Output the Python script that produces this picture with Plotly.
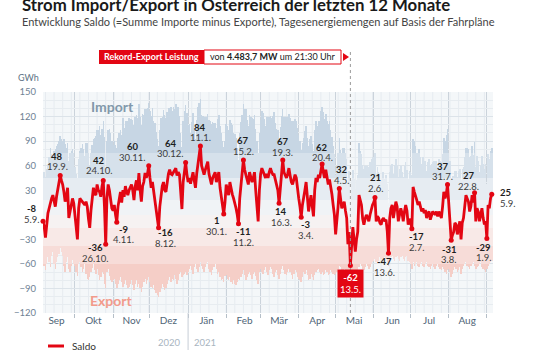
import plotly.graph_objects as go
import pandas as pd

# ---------------- data (GWh per day) ----------------
start_date = "2020-09-05"

saldo_2020_09 = [-8,-15,-28,-10,2,8,16,20,24,14, 10,22,30,36,48,42,37,28,16,22, 33,-4,4,10,20,14]
saldo_2020_10 = [-4,-20,-30,8,20,18,16,14,12,16, 10,-5,-16,5,20,33,26,24,37,30, 28,22,35,42,10,-36,20,37,30,20, 8]
saldo_2020_11 = [5,12,0,-9,10,20,28,15,30,22, 35,28,24,30,33,37,30,18,35,42, 30,51,30,16,35,40,51,45,50,60]
saldo_2020_12 = [45,33,40,28,20,5,-5,-16,10,28, 35,40,30,28,42,50,55,50,49,52, 55,57,48,52,49,30,7,40,55,64, 50]
saldo_2021_01 = [40,45,38,45,52,42,33,50,62,72, 84,60,55,49,55,60,65,50,45,37, 45,48,52,40,45,52,33,20,12,1, 15]
saldo_2021_02 = [37,30,24,40,30,25,20,15,8,0, -11,20,37,50,67,55,49,40,37,52, 45,40,45,52,30,10,-8,30]
saldo_2021_03 = [50,57,52,49,45,50,45,52,57,52, 49,49,42,37,30,14,35,55,67,52, 48,45,50,57,48,40,37,42,49,45, 30]
saldo_2021_04 = [20,10,-3,12,24,30,40,20,4,15, 24,10,-2,30,45,40,49,45,55,62, 52,45,55,45,37,43,35,25,12,0]
saldo_2021_05 = [-24,-10,10,32,15,8,12,16,5,-4, -36,-21,-62,-30,-15,-30,-45,-30,-21,24, 18,12,-5,-12,-5,0,-3,-8,0,8, 12]
saldo_2021_06 = [15,21,-8,-2,-4,-10,-12,-6,-4,-8, -6,-20,-47,-4,8,12,-4,5,16,10, -8,0,8,2,-8,4,12,5,-12,-5]
saldo_2021_07 = [-8,-17,34,28,24,18,12,16,10,4, 8,2,6,-4,2,4,-6,0,4,2, 0,4,-2,4,0,-4,10,28,20,25, 37]
saldo_2021_08 = [10,-4,-31,-25,-21,-10,-12,-24,-15,-8, -30,-10,-4,10,24,20,16,4,10,24, 15,27,-8,8,4,-8,2,8,-4,-12, -8]
saldo_2021_09 = [-29,12,8,20,25]

import_2020_09 = [50,52,46,56,60,70,82,74,72,78, 80,84,86,90,96,92,90,92,86,82, 88,66,76,78,80,76]
import_2020_10 = [58,50,45,68,78,82,86,80,72,88, 88,75,60,75,85,93,94,96,103,104, 108,98,105,114,95,54,90,103,105,100, 90]
import_2020_11 = [85,90,85,81,94,100,104,97,118,106, 115,114,114,118,117,117,116,110,120,122, 118,135,120,110,123,122,129,129,130,136]
import_2020_12 = [127,121,130,114,112,101,93,84,104,118, 120,128,122,118,126,130,131,132,127,132, 129,135,132,132,121,100,83,114,127,134, 124]
import_2021_01 = [110,111,100,113,124,106,93,116,132,136, 142,122,121,119,119,120,123,116,115,111, 113,112,112,106,117,122,109,100,90,83, 90]
import_2021_02 = [111,108,104,116,112,110,100,99,94,82, 67,100,113,122,135,129,129,116,109,122, 119,118,117,122,105,90,76,100]
import_2021_03 = [116,127,124,117,109,120,119,120,121,118, 121,125,112,105,104,92,107,121,129,120, 120,119,120,123,118,114,115,114,117,115, 106]
import_2021_04 = [98,90,79,88,94,102,108,94,84,93, 96,86,78,104,115,108,115,115,127,132, 126,117,123,115,111,115,103,95,84,74]
import_2021_05 = [48,60,76,94,79,76,82,82,75,68, 40,53,16,42,55,44,31,42,49,88, 78,74,61,56,59,60,59,58,64,68, 70]
import_2021_06 = [71,75,50,58,52,42,42,52,52,44, 48,38,15,52,60,62,50,61,68,60, 46,56,60,52,46,60,64,55,44,53]
import_2021_07 = [52,49,92,90,84,76,74,80,70,62, 70,66,66,54,64,68,60,62,64,66, 66,66,58,68,66,64,74,94,90,97, 105]
import_2021_08 = [76,66,45,47,47,54,54,46,53,56, 42,56,58,70,82,82,80,70,72,84, 73,89,58,72,66,52,60,72,62,56, 62]
import_2021_09 = [37,74,68,78,81]

export_2020_09 = [-55,-62,-68,-60,-52,-58,-64,-50,-45,-60, -66,-58,-52,-48,-40,-45,-50,-62,-70,-58, -52,-66,-70,-62,-55,-60]
export_2020_10 = [-62,-70,-75,-60,-58,-64,-70,-66,-60,-72, -78,-80,-76,-70,-65,-60,-68,-72,-66,-74, -80,-76,-70,-72,-85,-90,-70,-66,-75,-80, -82]
export_2020_11 = [-80,-78,-85,-90,-84,-80,-76,-82,-88,-84, -80,-86,-90,-88,-84,-80,-86,-92,-85,-80, -88,-84,-90,-94,-88,-82,-78,-84,-80,-76]
export_2020_12 = [-82,-88,-90,-86,-92,-96,-98,-100,-94,-90, -85,-88,-92,-90,-84,-80,-76,-82,-78,-80, -74,-78,-84,-80,-72,-70,-76,-74,-72,-70, -74]
export_2021_01 = [-70,-66,-62,-68,-72,-64,-60,-66,-70,-64, -58,-62,-66,-70,-64,-60,-58,-66,-70,-74, -68,-64,-60,-66,-72,-70,-76,-80,-78,-82, -75]
export_2021_02 = [-74,-78,-80,-76,-82,-85,-80,-84,-86,-82, -78,-80,-76,-72,-68,-74,-80,-76,-72,-70, -74,-78,-72,-70,-75,-80,-84,-70]
export_2021_03 = [-66,-70,-72,-68,-64,-70,-74,-68,-64,-66, -72,-76,-70,-68,-74,-78,-72,-66,-62,-68, -72,-74,-70,-66,-70,-74,-78,-72,-68,-70, -76]
export_2021_04 = [-78,-80,-82,-76,-70,-72,-68,-74,-80,-78, -72,-76,-80,-74,-70,-68,-66,-70,-72,-70, -74,-72,-68,-70,-74,-72,-68,-70,-72,-74]
export_2021_05 = [-72,-70,-66,-62,-64,-68,-70,-66,-70,-72, -76,-74,-78,-72,-70,-74,-76,-72,-70,-64, -60,-62,-66,-68,-64,-60,-62,-66,-64,-60, -58]
export_2021_06 = [-56,-54,-58,-60,-56,-52,-54,-58,-56,-52, -54,-58,-62,-56,-52,-50,-54,-56,-52,-50, -54,-56,-52,-50,-54,-56,-52,-50,-56,-58]
export_2021_07 = [-60,-66,-58,-62,-60,-58,-62,-64,-60,-58, -62,-64,-60,-58,-62,-64,-66,-62,-60,-64, -66,-62,-60,-64,-66,-68,-64,-66,-70,-72, -68]
export_2021_08 = [-66,-70,-76,-72,-68,-64,-66,-70,-68,-64, -72,-66,-62,-60,-58,-62,-64,-66,-62,-60, -58,-62,-66,-64,-62,-60,-58,-64,-66,-68, -70]
export_2021_09 = [-66,-62,-60,-58,-56]

# labelled extremes
label_dates = ["2020-09-05","2020-09-19","2020-10-24","2020-10-26","2020-11-04","2020-11-30",
               "2020-12-08","2020-12-30","2021-01-11","2021-01-30","2021-02-11","2021-02-15",
               "2021-03-16","2021-03-19","2021-04-03","2021-04-20","2021-05-04","2021-05-13",
               "2021-06-02","2021-06-13","2021-07-02","2021-07-31","2021-08-03","2021-08-22",
               "2021-09-01","2021-09-05"]
label_values = [-8,48,42,-36,-9,60,-16,64,84,1,-11,67,14,67,-3,62,32,-62,21,-47,-17,37,-31,27,-29,25]
label_texts = ["5.9.","19.9.","24.10.","26.10.","4.11.","30.11.","8.12.","30.12.","11.1.","30.1.",
               "11.2.","15.2.","16.3.","19.3.","3.4.","20.4.","4.5.","13.5.","2.6.","13.6.",
               "2.7.","31.7.","3.8.","22.8.","1.9.","5.9."]

month_labels = ["Sep","Okt","Nov","Dez","Jän","Feb","Mär","Apr","Mai","Jun","Jul","Aug"]
y_tick_values = [-120,-90,-60,-30,30,60,90,120,150]
record_date = "2021-05-13"

# ---------------- assemble ----------------
saldo = (saldo_2020_09 + saldo_2020_10 + saldo_2020_11 + saldo_2020_12 + saldo_2021_01 +
         saldo_2021_02 + saldo_2021_03 + saldo_2021_04 + saldo_2021_05 + saldo_2021_06 +
         saldo_2021_07 + saldo_2021_08 + saldo_2021_09)
imports = (import_2020_09 + import_2020_10 + import_2020_11 + import_2020_12 + import_2021_01 +
           import_2021_02 + import_2021_03 + import_2021_04 + import_2021_05 + import_2021_06 +
           import_2021_07 + import_2021_08 + import_2021_09)
exports = (export_2020_09 + export_2020_10 + export_2020_11 + export_2020_12 + export_2021_01 +
           export_2021_02 + export_2021_03 + export_2021_04 + export_2021_05 + export_2021_06 +
           export_2021_07 + export_2021_08 + export_2021_09)
dates = pd.date_range(start_date, periods=len(saldo), freq="D")

RED = "#e30613"
FONT = "Lato"
DAY = 86400000
BW = 0.4 * DAY

# plot-area geometry (px) for paper placement of decorations
L, R, T, B = 43, 493, 92, 313
def px(xp):
    return (xp - L) / (R - L)
def py(yp):
    return (B - yp) / (B - T)

fig = go.Figure()

# import bars with stepped fading toward zero
imp_colors = ["#c7d6e4", "#d6e1eb", "#e6ecf2", "#f0f3f6"]
imp_caps = [None, 75, 45, 18]
for col, cap in zip(imp_colors, imp_caps):
    vals = imports if cap is None else [min(v, cap) for v in imports]
    fig.add_trace(go.Bar(x=dates, y=vals, width=BW, marker=dict(color=col, line=dict(width=0)),
                         showlegend=False, hoverinfo="skip"))
exp_colors = ["#f5cec7", "#f7dcd8", "#f8e9e7", "#f6f2f2"]
exp_caps = [None, -60, -38, -16]
for col, cap in zip(exp_colors, exp_caps):
    vals = exports if cap is None else [max(v, cap) for v in exports]
    fig.add_trace(go.Bar(x=dates, y=vals, width=BW, marker=dict(color=col, line=dict(width=0)),
                         showlegend=False, hoverinfo="skip"))

fig.add_trace(go.Scatter(x=dates, y=saldo, mode="lines", line=dict(color=RED, width=2.8),
                         name="Saldo", showlegend=False, cliponaxis=False))
fig.add_trace(go.Scatter(x=pd.to_datetime(label_dates), y=label_values, mode="markers",
                         marker=dict(color=RED, size=5), showlegend=False, cliponaxis=False))

# label offsets (px): dx, dy of value text centre relative to point (positive = up)
label_offsets = [(-11, 12.5), (-3, 19), (-4, 20), (-10, -3.5), (7, -7), (-16, 19),
                 (7, -5), (-15, 19), (0, 19), (-7, -7), (5, -8), (0, 19),
                 (2, -8.5), (0, 18), (5, -7.5), (0, 17), (3, 19), (0, -17.5),
                 (1, 20), (-4, -8.5), (5, -8), (-5, 18), (-2, -9), (-6, 17),
                 (-3, -8.5), (11, 1.5)]

annotations = []
for d, v, t, (dx, dy) in zip(label_dates, label_values, label_texts, label_offsets):
    if d == record_date:
        annotations.append(dict(x=d, y=v, xref="x", yref="y", xshift=dx, yshift=dy,
                                text=f"<b>{v}</b><br>{t}", showarrow=False, bgcolor=RED,
                                borderpad=2, font=dict(family=FONT, size=9.5, color="white"),
                                xanchor="center", yanchor="middle"))
        continue
    xa = "left" if d == "2021-09-05" else "center"
    annotations.append(dict(x=d, y=v, xref="x", yref="y", xshift=dx - (5 if xa == "left" else 0),
                            yshift=dy, text=f"<b>{v}</b>", showarrow=False,
                            font=dict(family=FONT, size=9.5, color="#1e1e1e"),
                            xanchor=xa, yanchor="middle"))
    annotations.append(dict(x=d, y=v, xref="x", yref="y", xshift=dx - (5 if xa == "left" else 0),
                            yshift=dy - 10.5, text=t, showarrow=False,
                            font=dict(family=FONT, size=9.5, color="#3c3c3c"),
                            xanchor=xa, yanchor="middle"))

# texts in the frame
annotations += [
    dict(x=px(20), y=py(4.5), xref="paper", yref="paper", xanchor="left", yanchor="middle",
         text="<b>Strom Import/Export in Österreich der letzten 12 Monate</b>", showarrow=False,
         font=dict(family=FONT, size=16.8, color="#1a1a1a")),
    dict(x=px(20), y=py(21.5), xref="paper", yref="paper", xanchor="left", yanchor="middle",
         text="Entwicklung Saldo (=Summe Importe minus Exporte), Tagesenergiemengen auf Basis der Fahrpläne",
         showarrow=False, font=dict(family=FONT, size=11, color="#444444")),
    dict(x=px(151.5), y=py(57), xref="paper", yref="paper", xanchor="center", yanchor="middle",
         text="<b>Rekord-Export Leistung</b>", showarrow=False,
         font=dict(family=FONT, size=9, color="white")),
    dict(x=px(272.5), y=py(57), xref="paper", yref="paper", xanchor="center", yanchor="middle",
         text="von <b>4.483,7 MW</b> um 21:30 Uhr", showarrow=False,
         font=dict(family=FONT, size=9, color="#222222")),
    dict(x=px(28), y=py(77), xref="paper", yref="paper", xanchor="center", yanchor="middle",
         text="GWh", showarrow=False, font=dict(family=FONT, size=9, color="#5d7284")),
    dict(x=px(112), y=py(106), xref="paper", yref="paper", xanchor="center", yanchor="middle",
         text="<b>Import</b>", showarrow=False, font=dict(family=FONT, size=14, color="#8299ab")),
    dict(x=px(111), y=py(300), xref="paper", yref="paper", xanchor="center", yanchor="middle",
         text="<b>Export</b>", showarrow=False, font=dict(family=FONT, size=14, color="#f29b8b")),
    dict(x=px(183), y=py(342), xref="paper", yref="paper", xanchor="right", yanchor="middle",
         text="2020", showarrow=False, font=dict(family=FONT, size=9.5, color="#a9b5bf")),
    dict(x=px(192), y=py(342), xref="paper", yref="paper", xanchor="left", yanchor="middle",
         text="2021", showarrow=False, font=dict(family=FONT, size=9.5, color="#a9b5bf")),
    dict(x=px(70), y=py(346), xref="paper", yref="paper", xanchor="left", yanchor="middle",
         text="Saldo", showarrow=False, font=dict(family=FONT, size=10, color="#333333")),
]

shapes = []
# faint weekly vertical grid
for wd in pd.date_range("2020-09-07", "2021-09-05", freq="7D"):
    shapes.append(dict(type="line", xref="x", yref="paper", x0=wd, x1=wd, y0=0, y1=1,
                       line=dict(color="#e6ebf0", width=1), layer="below"))
shapes += [
    # record marker line
    dict(type="line", xref="x", yref="paper", x0=record_date, x1=record_date, y0=0, y1=py(50),
         line=dict(color="#9a9a9a", width=1, dash="dot")),
    dict(type="rect", xref="paper", yref="paper", x0=px(99), x1=px(204), y0=py(64), y1=py(50),
         fillcolor=RED, line=dict(width=0)),
    dict(type="rect", xref="paper", yref="paper", x0=px(204), x1=px(341), y0=py(64), y1=py(50),
         fillcolor="white", line=dict(color=RED, width=1)),
    dict(type="path", xref="paper", yref="paper",
         path=f"M {px(343)} {py(53)} L {px(349)} {py(57)} L {px(343)} {py(61)} Z",
         fillcolor=RED, line=dict(width=0)),
    # year separator
    dict(type="line", xref="x", yref="paper", x0="2021-01-01", x1="2021-01-01", y0=py(350), y1=0,
         line=dict(color="#c6ced6", width=1)),
    # legend sample
    dict(type="line", xref="paper", yref="paper", x0=px(48), x1=px(64), y0=py(346), y1=py(346),
         line=dict(color=RED, width=3)),
]

month_mid = pd.date_range("2020-09-01", periods=12, freq="MS") + pd.Timedelta(days=15)
month_start = pd.date_range("2020-10-01", "2021-09-01", freq="MS")

fig.update_layout(
    width=540, height=360,
    margin=dict(l=L, r=540 - R, t=T, b=360 - B, pad=0),
    paper_bgcolor="white", plot_bgcolor="#f4f7f9",
    barmode="overlay", bargap=0,
    showlegend=False,
    font=dict(family=FONT, size=10, color="#4f6577"),
    annotations=annotations, shapes=shapes,
    xaxis=dict(type="date", range=["2020-09-05", "2021-09-06"],
               tickmode="array", tickvals=list(month_mid), ticktext=month_labels,
               showgrid=False, ticks="", zeroline=False, showline=False,
               tickfont=dict(family=FONT, size=10, color="#4f6577"),
               minor=dict(tickmode="array", tickvals=list(month_start), showgrid=True,
                          gridcolor="#cbd3db", gridwidth=1, ticks="outside", ticklen=4,
                          tickcolor="#b5bfc8")),
    yaxis=dict(range=[-120, 150], tickmode="array", tickvals=y_tick_values,
               showgrid=True, gridcolor="#dce3e9", gridwidth=1,
               zeroline=True, zerolinecolor="#9ba7b2", zerolinewidth=1,
               ticks="", ticklabelstandoff=6,
               tickfont=dict(family=FONT, size=9.5, color="#6e8294"),
               minor=dict(dtick=10, showgrid=True, gridcolor="#e7ecf0", gridwidth=1)),
)

fig.write_html("out.html", config={"displayModeBar": False},
               post_script="document.body.style.margin='0';")
